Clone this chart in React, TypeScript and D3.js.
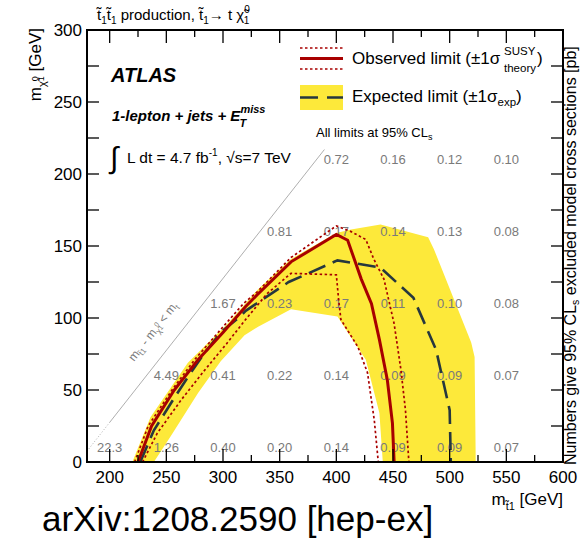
import React from 'react';
import * as d3 from 'd3';

// stop / neutralino mass grid where cross section numbers are printed
const stopMasses = [200, 250, 300, 350, 400, 450, 500, 550];
const lspMasses = [0, 50, 100, 150, 200];
const xsecRows = [
  ['22.3', '1.26', '0.40', '0.20', '0.14', '0.09', '0.09', '0.07'],
  [null, '4.49', '0.41', '0.22', '0.14', '0.09', '0.09', '0.07'],
  [null, null, '1.67', '0.23', '0.17', '0.11', '0.10', '0.08'],
  [null, null, null, '0.81', '0.17', '0.14', '0.13', '0.08'],
  [null, null, null, null, '0.72', '0.16', '0.12', '0.10'],
];

// contours: [m_stop, m_lsp]
const observed = [[225, 0], [237, 25], [257, 50], [278, 71], [300, 90], [320, 108], [330, 116], [360, 139], [400, 158], [410, 154], [422, 127], [431, 110], [438, 85], [445, 57], [449.5, 27], [451, 0]];
const observedUp = [[222, 0], [234, 25], [255, 50], [276, 72], [298, 92], [318, 110], [330, 118], [360, 142], [400, 164], [413, 160], [426, 154.5], [433, 141], [442, 127], [451, 96], [457, 64], [461, 36], [464, 0]];
const observedDown = [[229, 0], [242, 20], [263, 43], [283, 63], [303, 82], [320, 99], [339, 117], [360, 131], [400, 130], [402, 113], [404, 99], [419, 80], [427.5, 62], [433.5, 29], [437, 0]];
const expected = [[227, 0], [239, 22], [255, 42], [269, 59], [283, 75], [298, 90], [315, 101], [320, 105], [358, 125], [401, 140], [439, 135], [468, 114], [488, 78], [500, 36], [501, 0]];
const bandOuter = [[220, 0], [236, 31], [269, 69], [304, 96], [331, 120], [360, 141], [400, 159], [413, 161.5], [439, 165], [481, 156], [486, 148], [519, 83], [522, 73], [523, 0]];
const bandInner = [[441, 0], [438, 34], [426, 71], [416, 83], [401, 101], [360, 106], [331, 94], [319, 88], [298, 70], [278, 48], [254, 18], [239, 0]];

const topMass = 172.5;
const xTickLabels = [200, 250, 300, 350, 400, 450, 500, 550, 600];
const yTickLabels = [0, 50, 100, 150, 200, 250, 300];

const RED = '#a80000';
const YELLOW = '#fde93a';
const DARK = '#26373e';
const GREY = '#7a7a7a';
const FONT = 'Liberation Sans, Arial, Helvetica, sans-serif';

const App = () => {
  const left = 87, right = 563, top = 30, bottom = 462;
  const x = d3.scaleLinear().domain([180, 600]).range([left, right]);
  const y = d3.scaleLinear().domain([0, 300]).range([bottom, top]);
  const line = d3.line<number[]>().x(d => x(d[0])).y(d => y(d[1]));

  const xMinor = d3.range(200, 600, 25).filter(v => v % 50 !== 0);
  const yAll = d3.range(0, 301, 25);

  const band = line([...bandOuter, ...bandInner]) + 'Z';

  const angle = -Math.atan((y(0) - y(100)) / (x(100) - x(0))) * 180 / Math.PI;

  return (
    <svg width={581} height={541} style={{ position: 'absolute', left: 0, top: 0 }} fontFamily={FONT}>
      <rect width={581} height={541} fill="white" />

      {/* expected band */}
      <path d={band} fill={YELLOW} stroke="none" />

      {/* kinematic limit */}
      <line x1={x(180)} y1={y(180 - topMass)} x2={x(200)} y2={y(200 - topMass)} stroke="#999" strokeWidth={0.8} strokeDasharray="1,2" />
      <line x1={x(200)} y1={y(200 - topMass)} x2={x(389.5)} y2={y(389.5 - topMass)} stroke="#999" strokeWidth={0.8} />
      <text transform={`translate(${x(221.5)},${y(69.5)}) rotate(${angle})`} fontSize={12} fill={GREY}>
        m<tspan dy={3} fontSize={8}>t̃1</tspan><tspan dy={-3}> - m</tspan><tspan dy={3} fontSize={8}>χ̃</tspan><tspan dy={-6} fontSize={7}>0</tspan><tspan dy={5} dx={-4} fontSize={7}>1</tspan><tspan dy={-2}> &lt; m</tspan><tspan dy={3} fontSize={8}>t</tspan>
      </text>

      {/* cross section numbers */}
      {xsecRows.map((row, i) => row.map((v, j) => v === null ? null : (
        <text key={`${i}-${j}`} x={x(stopMasses[j])} y={y(lspMasses[i]) - 10} fontSize={13} fill={GREY} textAnchor="middle">{v}</text>
      )))}

      {/* contours */}
      <path d={line(expected)!} fill="none" stroke={DARK} strokeWidth={2.6} strokeDasharray="18,8" />
      <path d={line(observedUp)!} fill="none" stroke={RED} strokeWidth={1.7} strokeDasharray="2.5,2.5" />
      <path d={line(observedDown)!} fill="none" stroke={RED} strokeWidth={1.7} strokeDasharray="2.5,2.5" />
      <path d={line(observed)!} fill="none" stroke={RED} strokeWidth={3} />

      {/* frame and ticks */}
      <rect x={left} y={top} width={right - left} height={bottom - top} fill="none" stroke="black" strokeWidth={2} />
      {xTickLabels.filter(v => v < 600).map(v => (
        <g key={`xt${v}`}>
          <line x1={x(v)} x2={x(v)} y1={bottom} y2={bottom - 13} stroke="black" strokeWidth={1.3} />
          <line x1={x(v)} x2={x(v)} y1={top} y2={top + 13} stroke="black" strokeWidth={1.3} />
        </g>
      ))}
      {xMinor.map(v => (
        <g key={`xm${v}`}>
          <line x1={x(v)} x2={x(v)} y1={bottom} y2={bottom - 7} stroke="black" strokeWidth={1.3} />
          <line x1={x(v)} x2={x(v)} y1={top} y2={top + 7} stroke="black" strokeWidth={1.3} />
        </g>
      ))}
      {yAll.filter(v => v > 0 && v < 300).map(v => (
        <g key={`yt${v}`}>
          <line x1={left} x2={left + 12} y1={y(v)} y2={y(v)} stroke="black" strokeWidth={1.3} />
          <line x1={right} x2={right - 12} y1={y(v)} y2={y(v)} stroke="black" strokeWidth={1.3} />
        </g>
      ))}
      {xTickLabels.map(v => (
        <text key={`xl${v}`} x={x(v)} y={483} fontSize={17} textAnchor="middle">{v}</text>
      ))}
      {yTickLabels.map(v => (
        <text key={`yl${v}`} x={82} y={y(v) + 6} fontSize={17} textAnchor="end">{v}</text>
      ))}

      {/* axis titles */}
      <text x={563} y={505} fontSize={17} textAnchor="end">
        m<tspan dy={5} fontSize={11}>t̃1</tspan><tspan dy={-5}> [GeV]</tspan>
      </text>
      <text transform="translate(41,28) rotate(-90)" fontSize={17} textAnchor="end">
        m<tspan dy={5} fontSize={11}>χ̃</tspan><tspan dy={-8} fontSize={9}>0</tspan><tspan dy={6} dx={-5} fontSize={9}>1</tspan><tspan dy={-3}> [GeV]</tspan>
      </text>
      <text transform="translate(576,465) rotate(-90)" fontSize={16}>
        Numbers give 95% CL<tspan dy={3} fontSize={10.5}>s</tspan><tspan dy={-3}> excluded model cross sections [pb]</tspan>
      </text>

      {/* title */}
      <text x={97} y={20} fontSize={15}>
        t̃<tspan dy={4} fontSize={10}>1</tspan><tspan dy={-4}>t̃</tspan><tspan dy={4} fontSize={10}>1</tspan><tspan dy={-4}> production, t̃</tspan><tspan dy={4} fontSize={10}>1</tspan><tspan dy={-4}>→ t χ̃</tspan><tspan dy={-7} fontSize={10}>0</tspan><tspan dy={11} dx={-6} fontSize={10}>1</tspan>
      </text>

      {/* labels */}
      <text x={111} y={82} fontSize={20} fontWeight="bold" fontStyle="italic">ATLAS</text>
      <text x={112} y={121} fontSize={15} fontWeight="bold" fontStyle="italic">
        1-lepton + jets + E<tspan dy={-8} fontSize={11}>miss</tspan><tspan dy={14} dx={-26} fontSize={11}>T</tspan>
      </text>
      <text x={110} y={168} fontSize={30}>∫</text>
      <text x={127} y={163} fontSize={15.5}>
        L dt = 4.7 fb<tspan dy={-7} fontSize={10}>-1</tspan><tspan dy={7}>, √s=7 TeV</tspan>
      </text>
      <text x={316} y={137} fontSize={13}>
        All limits at 95% CL<tspan dy={3} fontSize={9}>s</tspan>
      </text>

      {/* legend */}
      <line x1={300} x2={343} y1={48} y2={48} stroke={RED} strokeWidth={1.7} strokeDasharray="2.5,2.5" />
      <line x1={300} x2={343} y1={58.5} y2={58.5} stroke={RED} strokeWidth={3} />
      <line x1={300} x2={343} y1={69} y2={69} stroke={RED} strokeWidth={1.7} strokeDasharray="2.5,2.5" />
      <text x={352} y={64} fontSize={17}>Observed limit (±1σ</text>
      <text x={504} y={55} fontSize={11.5}>SUSY</text>
      <text x={504} y={72} fontSize={11.5}>theory</text>
      <text x={537} y={64} fontSize={17}>)</text>

      <rect x={300} y={85} width={43} height={25} fill={YELLOW} />
      <line x1={300} x2={343} y1={97.5} y2={97.5} stroke={DARK} strokeWidth={2.6} strokeDasharray="18,9" />
      <text x={352} y={102} fontSize={17}>
        Expected limit (±1σ<tspan dy={4} fontSize={11.5}>exp</tspan><tspan dy={-4}>)</tspan>
      </text>

      <text x={42} y={531} fontSize={35}>arXiv:1208.2590 [hep-ex]</text>
    </svg>
  );
};

export default App;
